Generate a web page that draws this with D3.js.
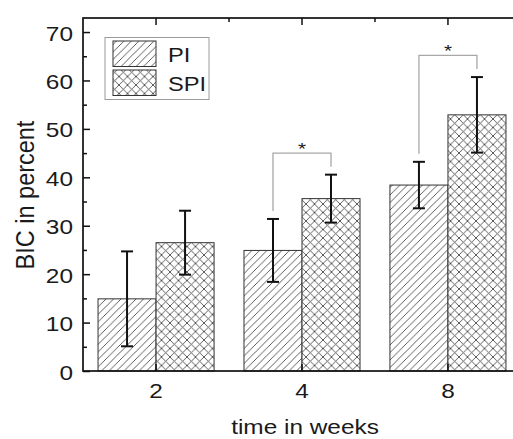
<!DOCTYPE html>
<html>
<head>
<meta charset="utf-8">
<script src="https://cdn.jsdelivr.net/npm/d3@7"></script>
<style>
  html, body { margin: 0; padding: 0; background: #fff; }
  svg { display: block; }
  text { font-family: "Liberation Sans", Arial, sans-serif; fill: #1a1a1a; }
</style>
</head>
<body>
<svg id="chart" width="513" height="439"></svg>
<script>
// ---- data ----
const categories = ["2", "4", "8"];
const seriesNames = ["PI", "SPI"];
const piMean = [14.9, 24.9, 38.4];
const piErr = [9.8, 6.5, 4.8];
const spiMean = [26.5, 35.6, 52.9];
const spiErr = [6.6, 4.95, 7.8];
const yTicks = [0, 10, 20, 30, 40, 50, 60, 70];
const yMinorTicks = [5, 15, 25, 35, 45, 55, 65];
const significance = [
  { cat: "4", level: 45.0, label: "*" },
  { cat: "8", level: 65.2, label: "*" }
];
const xTitle = "time in weeks";
const yTitle = "BIC in percent";

(function () {
// ---- layout ----
const pL = 83, pR = 521, pT = 18, pB = 371;
const stretch = 1.22;

const svg = d3.select("#chart");

const x = d3.scaleBand().domain(categories).range([pL, pR])
  .paddingInner(0.205).paddingOuter(0.103);
const xs = d3.scaleBand().domain(seriesNames).range([0, x.bandwidth()]);
const y = d3.scaleLinear().domain([0, 72.9]).range([pB, pT]);

// patterns
const defs = svg.append("defs");
const p1 = defs.append("pattern").attr("id", "hatchPI")
  .attr("patternUnits", "userSpaceOnUse").attr("width", 7.5).attr("height", 7.5);
p1.append("rect").attr("width", 7.5).attr("height", 7.5).attr("fill", "#fff");
p1.append("path").attr("d", "M-2,2 L2,-2 M0,7.5 L7.5,0 M5.5,9.5 L9.5,5.5")
  .attr("stroke", "#4a4a4a").attr("stroke-width", 0.9);
const p2 = defs.append("pattern").attr("id", "hatchSPI")
  .attr("patternUnits", "userSpaceOnUse").attr("width", 8.5).attr("height", 8.5);
p2.append("rect").attr("width", 8.5).attr("height", 8.5).attr("fill", "#fff");
p2.append("path").attr("d", "M-2,2 L2,-2 M0,8.5 L8.5,0 M6.5,10.5 L10.5,6.5 M-2,6.5 L2,10.5 M0,0 L8.5,8.5 M6.5,-2 L10.5,2")
  .attr("stroke", "#4a4a4a").attr("stroke-width", 0.9);
const fills = { PI: "url(#hatchPI)", SPI: "url(#hatchSPI)" };

// rows
const rows = categories.map((c, i) => ({
  cat: c,
  PI: { mean: piMean[i], err: piErr[i] },
  SPI: { mean: spiMean[i], err: spiErr[i] }
}));

// bars
const gBars = svg.append("g");
rows.forEach(r => {
  seriesNames.forEach(s => {
    gBars.append("rect")
      .attr("x", x(r.cat) + xs(s))
      .attr("y", y(r[s].mean))
      .attr("width", xs.bandwidth())
      .attr("height", y(0) - y(r[s].mean))
      .attr("fill", fills[s])
      .attr("stroke", "#333")
      .attr("stroke-width", 1);
  });
});

// error bars
const gErr = svg.append("g").attr("stroke", "#111").attr("stroke-width", 2);
const capW = 6;
rows.forEach(r => {
  seriesNames.forEach(s => {
    const cx = x(r.cat) + xs(s) + xs.bandwidth() / 2;
    const hi = y(r[s].mean + r[s].err), lo = y(r[s].mean - r[s].err);
    gErr.append("line").attr("x1", cx).attr("x2", cx).attr("y1", hi).attr("y2", lo);
    gErr.append("line").attr("x1", cx - capW).attr("x2", cx + capW).attr("y1", hi).attr("y2", hi);
    gErr.append("line").attr("x1", cx - capW).attr("x2", cx + capW).attr("y1", lo).attr("y2", lo);
  });
});

// significance brackets
const gSig = svg.append("g");
const gap = 8;
significance.forEach(sg => {
  const r = rows.find(d => d.cat === sg.cat);
  const xl = x(sg.cat) + xs("PI") + xs.bandwidth() / 2;
  const xr = x(sg.cat) + xs("SPI") + xs.bandwidth() / 2;
  const yl = y(r.PI.mean + r.PI.err) - gap;
  const yr = y(r.SPI.mean + r.SPI.err) - gap;
  const yb = y(sg.level);
  gSig.append("path")
    .attr("d", `M${xl},${yl} L${xl},${yb} L${xr},${yb} L${xr},${yr}`)
    .attr("fill", "none").attr("stroke", "#a8a8a8").attr("stroke-width", 1.3);
  gSig.append("text")
    .attr("transform", `translate(${(xl + xr) / 2},${yb + 2}) scale(${stretch},1)`)
    .attr("text-anchor", "middle").style("font-size", "17px")
    .text(sg.label);
});

// axes
const fontSize = "20px";
const yAxis = svg.append("g").attr("transform", `translate(${pL},0)`)
  .call(d3.axisLeft(y).tickValues(yTicks).tickSizeInner(-7).tickSizeOuter(0).tickPadding(10));
yAxis.select(".domain").remove();
yAxis.selectAll("line").attr("stroke", "#111").attr("stroke-width", 1.5);
yAxis.selectAll("text").attr("x", null).attr("dy", null)
  .attr("transform", `translate(-10,8) scale(${stretch},1)`)
  .style("font-size", fontSize).attr("fill", "#1a1a1a");

const yMinor = svg.append("g").attr("transform", `translate(${pL},0)`)
  .call(d3.axisLeft(y).tickValues(yMinorTicks).tickSizeInner(-4).tickSizeOuter(0).tickFormat(""));
yMinor.select(".domain").remove();
yMinor.selectAll("line").attr("stroke", "#111").attr("stroke-width", 1.5);

const yRight = svg.append("g").attr("transform", `translate(${pR},0)`)
  .call(d3.axisRight(y).tickValues(yTicks).tickSizeInner(-7).tickSizeOuter(0).tickFormat(""));
yRight.select(".domain").remove();
yRight.selectAll("line").attr("stroke", "#111").attr("stroke-width", 1.5);
const yRightMinor = svg.append("g").attr("transform", `translate(${pR},0)`)
  .call(d3.axisRight(y).tickValues(yMinorTicks).tickSizeInner(-4).tickSizeOuter(0).tickFormat(""));
yRightMinor.select(".domain").remove();
yRightMinor.selectAll("line").attr("stroke", "#111").attr("stroke-width", 1.5);

const xAxis = svg.append("g").attr("transform", `translate(0,${pB})`)
  .call(d3.axisBottom(x).tickSizeInner(-7).tickSizeOuter(0).tickPadding(0));
xAxis.select(".domain").remove();
xAxis.selectAll("line").attr("stroke", "#111").attr("stroke-width", 1.5);
xAxis.selectAll("text").attr("y", null).attr("dy", null)
  .attr("transform", `translate(0,27) scale(${stretch},1)`)
  .style("font-size", fontSize).attr("fill", "#1a1a1a");

const xTop = svg.append("g").attr("transform", `translate(0,${pT})`)
  .call(d3.axisTop(x).tickSizeInner(-7).tickSizeOuter(0).tickFormat(""));
xTop.select(".domain").remove();
xTop.selectAll("line").attr("stroke", "#111").attr("stroke-width", 1.5);
// minor ticks on top axis between categories
const centers = categories.map(c => x(c) + x.bandwidth() / 2);
const mids = d3.pairs(centers).map(([a, b]) => (a + b) / 2);
svg.append("g").selectAll("line").data(mids).join("line")
  .attr("x1", d => d).attr("x2", d => d).attr("y1", pT).attr("y2", pT + 4)
  .attr("stroke", "#111").attr("stroke-width", 1.5);

// frame
svg.append("rect").attr("x", pL).attr("y", pT)
  .attr("width", pR - pL).attr("height", pB - pT)
  .attr("fill", "none").attr("stroke", "#111").attr("stroke-width", 1.7);

// titles
svg.append("text")
  .attr("transform", `translate(305,434) scale(${stretch},1)`)
  .attr("text-anchor", "middle").style("font-size", fontSize).text(xTitle);
svg.append("text")
  .attr("transform", `translate(34,195) rotate(-90) scale(1,1.08)`)
  .attr("text-anchor", "middle").style("font-size", "23.5px").text(yTitle);

// legend
const lg = svg.append("g");
lg.append("rect").attr("x", 105).attr("y", 37.5).attr("width", 104).attr("height", 62)
  .attr("fill", "#fff").attr("stroke", "#9a9a9a").attr("stroke-width", 1);
seriesNames.forEach((s, i) => {
  lg.append("rect").attr("x", 113).attr("y", 41 + i * 29).attr("width", 43).attr("height", 25.5)
    .attr("fill", fills[s]).attr("stroke", "#333").attr("stroke-width", 1);
  lg.append("text")
    .attr("transform", `translate(168,${61.5 + i * 29.5}) scale(${stretch * 0.97},1)`)
    .style("font-size", fontSize).text(s);
});
})();
</script>
</body>
</html>
